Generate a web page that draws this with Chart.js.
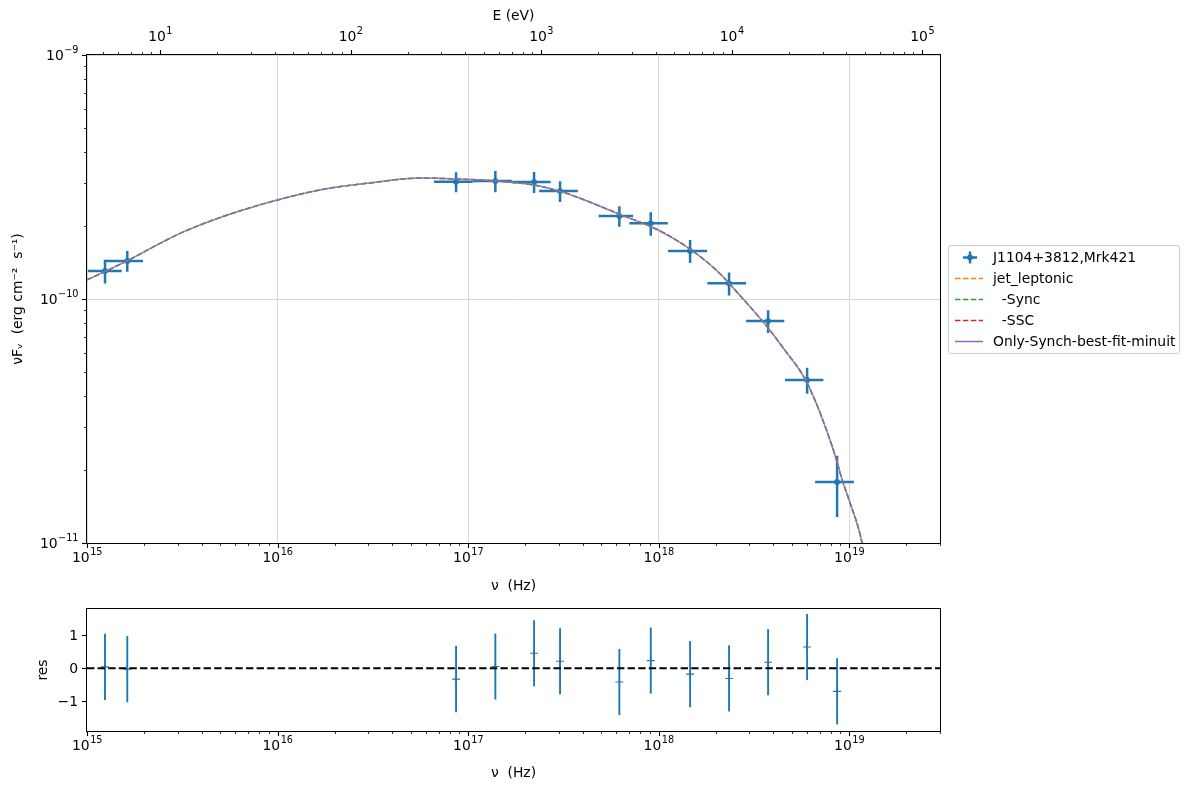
<!DOCTYPE html>
<html>
<head>
<meta charset="utf-8">
<script src="https://cdn.jsdelivr.net/npm/chart.js@4.4.0/dist/chart.umd.min.js"></script>
<style>
  body { margin: 0; background: #fff; font-family: "DejaVu Sans", sans-serif; }
  #wrap { position: relative; width: 1189px; height: 790px; }
  #main { position: absolute; left: 0; top: 0; }
  #res { position: absolute; left: 0; top: 600px; }
  #legend { position: absolute; left: 948px; top: 245px; width: 232px; height: 109px;
            border: 1px solid #cccccc; border-radius: 3px; box-sizing: border-box; }
  .row { position: absolute; left: 0; height: 20px; width: 230px; }
  .row svg { position: absolute; left: 5px; top: 0; }
  .row span { position: absolute; left: 44px; top: 0; line-height: 20px; font-size: 13.9px;
              color: #000; white-space: pre; }
</style>
</head>
<body>
<div id="wrap">
  <canvas id="main" width="1189" height="600"></canvas>
  <canvas id="res" width="1189" height="190"></canvas>
  <div id="legend"></div>
</div>
<script>
// observed SED points
const nu = [1.243e15, 1.627e15, 8.65e16, 1.391e17, 2.221e17, 3.04e17, 6.225e17, 9.1e17, 1.464e18, 2.344e18, 3.757e18, 6.02e18, 8.65e18];
const nuLo = [1.01e15, 1.243e15, 6.63e16, 1.062e17, 1.696e17, 2.36e17, 4.84e17, 7.03e17, 1.122e18, 1.803e18, 2.88e18, 4.61e18, 6.63e18];
const nuHi = [1.52e15, 1.968e15, 1.059e17, 1.696e17, 2.717e17, 3.77e17, 7.35e17, 1.118e18, 1.798e18, 2.88e18, 4.57e18, 7.33e18, 1.059e19];
const nuFnu = [1.303e-10, 1.432e-10, 3.024e-10, 3.044e-10, 3.016e-10, 2.77e-10, 2.188e-10, 2.042e-10, 1.573e-10, 1.159e-10, 8.12e-11, 4.66e-11, 1.778e-11];
const nuFnuErr = [1.45e-11, 1.4e-11, 2.85e-11, 3.05e-11, 3.0e-11, 2.7e-11, 2.1e-11, 2.25e-11, 1.7e-11, 1.25e-11, 8.7e-12, 5.7e-12, 5.0e-12];

// model curve (jet_leptonic / Sync / best fit overlap in this range)
const modelNu = [1.0e15, 1.62e15, 2.415e15, 3.16e15, 5.0e15, 1.0e16, 1.78e16, 3.06e16, 5.6e16, 8.65e16, 1.39e17, 2.22e17, 3.04e17, 3.87e17, 6.21e17, 1.0e18, 1.46e18, 2.03e18, 2.78e18, 3.76e18, 4.51e18, 6.03e18, 8.28e18, 9.27e18, 1.0e19, 1.17e19, 1.35e19];
const modelFlux = [1.197e-10, 1.432e-10, 1.69e-10, 1.875e-10, 2.158e-10, 2.547e-10, 2.825e-10, 2.99e-10, 3.13e-10, 3.105e-10, 3.048e-10, 2.931e-10, 2.761e-10, 2.588e-10, 2.228e-10, 1.914e-10, 1.603e-10, 1.303e-10, 1.0e-10, 7.6e-11, 6.3e-11, 4.52e-11, 2.4e-11, 1.78e-11, 1.5e-11, 1.0e-11, 5.0e-12];
const sscFlux = [];

// residuals
const residual = [0.04, -0.03, -0.33, 0.05, 0.45, 0.21, -0.42, 0.23, -0.18, -0.31, 0.18, 0.64, -0.70];
const residualErr = [1, 1, 1, 1, 1, 1, 1, 1, 1, 1, 1, 1, 1];
const residualTicks = [-1, 0, 1];

// axis ranges
const NU_MIN = 1e15, NU_MAX = 3e19;
const FLUX_MIN = 1e-11, FLUX_MAX = 1e-9;
const RES_MIN = -1.9, RES_MAX = 1.79;
const H_EV = 4.135667e-15;

const BLUE = '#1f77b4';
const GRID = '#d8d8d8';
const FONT = { family: 'DejaVu Sans', size: 13.9 };
const DASH = [5.5, 2.4];

Chart.defaults.font.family = 'DejaVu Sans';
Chart.defaults.color = '#000';
Chart.defaults.animation = false;

function decades(scale) {
  const out = [];
  for (let e = Math.ceil(Math.log10(scale.min) - 1e-9); Math.pow(10, e) <= scale.max * 1.000001; e++) {
    out.push({ value: Math.pow(10, e) });
  }
  scale.ticks = out;
}
function tickValues(scale) {
  if (scale.type === 'logarithmic') {
    const out = [];
    const e0 = Math.floor(Math.log10(scale.min)), e1 = Math.ceil(Math.log10(scale.max));
    for (let e = e0; e <= e1; e++) {
      for (let m = 1; m <= 9; m++) {
        const v = m * Math.pow(10, e);
        if (v >= scale.min * 0.9999 && v <= scale.max * 1.0001) out.push({ v, major: m === 1 });
      }
    }
    return out;
  }
  return scale.ticks.map(t => ({ v: t.value, major: true }));
}

// "10" with a raised exponent, like matplotlib's log labels
function powText(ctx, v, x, y, align) {
  const exp = String(Math.round(Math.log10(v))).replace('-', '−');
  ctx.font = '13.9px "DejaVu Sans"';
  const wb = ctx.measureText('10').width;
  ctx.font = '9.7px "DejaVu Sans"';
  const we = ctx.measureText(exp).width;
  const x0 = align === 'right' ? x - wb - we : x - (wb + we) / 2;
  ctx.fillStyle = '#000';
  ctx.textAlign = 'left';
  ctx.textBaseline = 'alphabetic';
  ctx.font = '13.9px "DejaVu Sans"';
  ctx.fillText('10', x0, y);
  ctx.font = '9.7px "DejaVu Sans"';
  ctx.fillText(exp, x0 + wb + 0.5, y - 7);
}

// error bars, frame, tick marks and tick labels drawn with the chart scales
const axesFrame = {
  id: 'axesFrame',
  beforeDatasetsDraw(chart) {
    const { ctx, chartArea: a, scales } = chart;
    const xs = scales.x, ys = scales.y;
    ctx.save();
    ctx.beginPath();
    ctx.rect(a.left, a.top, a.right - a.left, a.bottom - a.top);
    ctx.clip();
    chart.data.datasets.forEach(ds => {
      if (!ds.yErr) return;
      ctx.strokeStyle = ds.borderColor;
      ctx.lineWidth = ds.errWidth;
      ds.data.forEach((p, i) => {
        const px = xs.getPixelForValue(p.x), py = ys.getPixelForValue(p.y);
        ctx.beginPath();
        ctx.moveTo(px, ys.getPixelForValue(p.y + ds.yErr[i]));
        ctx.lineTo(px, ys.getPixelForValue(p.y - ds.yErr[i]));
        if (ds.xLo) {
          ctx.moveTo(xs.getPixelForValue(ds.xLo[i]), py);
          ctx.lineTo(xs.getPixelForValue(ds.xHi[i]), py);
        }
        ctx.stroke();
      });
    });
    ctx.restore();
  },
  afterDraw(chart) {
    const { ctx, chartArea: a } = chart;
    ctx.save();
    ctx.strokeStyle = '#000';
    Object.values(chart.scales).forEach(s => {
      tickValues(s).forEach(t => {
        const len = t.major ? 5 : 3;
        ctx.lineWidth = t.major ? 1.1 : 0.8;
        ctx.beginPath();
        if (s.isHorizontal()) {
          const px = Math.round(s.getPixelForValue(t.v)) + 0.5;
          if (s.position === 'top') { ctx.moveTo(px, a.top); ctx.lineTo(px, a.top - len); }
          else { ctx.moveTo(px, a.bottom); ctx.lineTo(px, a.bottom + len); }
        } else {
          const py = Math.round(s.getPixelForValue(t.v)) + 0.5;
          ctx.moveTo(a.left, py); ctx.lineTo(a.left - len, py);
        }
        ctx.stroke();
      });
      s.ticks.forEach(t => {
        const p = s.getPixelForValue(t.value);
        if (s.type === 'logarithmic') {
          if (s.isHorizontal()) {
            if (s.position === 'top') powText(ctx, t.value, p, a.top - 14, 'center');
            else powText(ctx, t.value, p, a.bottom + 19, 'center');
          } else {
            powText(ctx, t.value, a.left - 9, p + 5, 'right');
          }
        } else {
          ctx.font = '13.9px "DejaVu Sans"';
          ctx.fillStyle = '#000';
          ctx.textAlign = 'right';
          ctx.textBaseline = 'alphabetic';
          ctx.fillText(String(t.value).replace('-', '−'), a.left - 9, p + 5);
        }
      });
    });
    ctx.lineWidth = 1;
    ctx.strokeRect(Math.round(a.left) - 0.5, Math.round(a.top) - 0.5,
                   Math.round(a.right - a.left) + 1, Math.round(a.bottom - a.top) + 1);
    ctx.restore();
  }
};

const obs = nu.map((v, i) => ({ x: v, y: nuFnu[i] }));
const model = modelNu.map((v, i) => ({ x: v, y: modelFlux[i] }));
const ssc = sscFlux.map((v, i) => ({ x: modelNu[i], y: v }));

const lineStyle = { showLine: true, pointRadius: 0, borderWidth: 1.5, cubicInterpolationMode: 'monotone' };

new Chart(document.getElementById('main'), {
  type: 'scatter',
  data: {
    datasets: [
      { label: 'J1104+3812,Mrk421', data: obs, xLo: nuLo, xHi: nuHi, yErr: nuFnuErr, errWidth: 2.5,
        pointRadius: 2.9, backgroundColor: BLUE, borderColor: BLUE, borderWidth: 0, order: 5 },
      { ...lineStyle, label: 'Only-Synch-best-fit-minuit', data: model, borderColor: 'rgba(148,103,189,0.85)', order: 1 },
      { ...lineStyle, label: '  -SSC', data: ssc, borderColor: '#d62728', borderDash: DASH, order: 2 },
      { ...lineStyle, label: '  -Sync', data: model, borderColor: '#2ca02c', borderDash: DASH, order: 3 },
      { ...lineStyle, label: 'jet_leptonic', data: model, borderColor: '#ff7f0e', borderDash: DASH, order: 4 }
    ]
  },
  options: {
    responsive: false,
    layout: { padding: { left: 0, right: 249, top: 0, bottom: 0 } },
    plugins: { legend: { display: false }, tooltip: { enabled: false } },
    scales: {
      x: {
        type: 'logarithmic', position: 'bottom', min: NU_MIN, max: NU_MAX,
        afterBuildTicks: decades,
        afterFit: s => { s.height = 57; },
        ticks: { display: false },
        grid: { color: GRID, lineWidth: 1, drawTicks: false },
        border: { display: false },
        title: { display: true, text: 'ν  (Hz)', font: FONT, color: '#000', padding: { top: 0, bottom: 5 } }
      },
      xE: {
        type: 'logarithmic', position: 'top', min: NU_MIN * H_EV, max: NU_MAX * H_EV,
        afterBuildTicks: decades,
        afterFit: s => { s.height = 55; },
        ticks: { display: false },
        grid: { display: false, drawTicks: false },
        border: { display: false },
        title: { display: true, text: 'E (eV)', font: FONT, color: '#000', padding: { top: 8, bottom: 0 } }
      },
      y: {
        type: 'logarithmic', position: 'left', min: FLUX_MIN, max: FLUX_MAX,
        afterBuildTicks: decades,
        afterFit: s => { s.width = 87; },
        ticks: { display: false },
        grid: { color: GRID, lineWidth: 1, drawTicks: false },
        border: { display: false },
        title: { display: true, text: 'νFᵥ  (erg cm⁻²  s⁻¹)', font: FONT, color: '#000', padding: { top: 10, bottom: 0 } }
      }
    }
  },
  plugins: [axesFrame]
});

const resPts = nu.map((v, i) => ({ x: v, y: residual[i] }));
const zeroLine = [{ x: NU_MIN, y: 0 }, { x: NU_MAX, y: 0 }];

new Chart(document.getElementById('res'), {
  type: 'scatter',
  data: {
    datasets: [
      { data: zeroLine, showLine: true, borderColor: '#000', borderDash: [7.4, 3.2], borderWidth: 2,
        pointRadius: 0, order: 0 },
      { data: resPts, yErr: residualErr, errWidth: 1.9, pointStyle: 'cross', pointRadius: 4,
        borderColor: BLUE, borderWidth: 1.1, order: 1 }
    ]
  },
  options: {
    responsive: false,
    layout: { padding: { left: 0, right: 249, top: 9, bottom: 0 } },
    plugins: { legend: { display: false }, tooltip: { enabled: false } },
    scales: {
      x: {
        type: 'logarithmic', position: 'bottom', min: NU_MIN, max: NU_MAX,
        afterBuildTicks: decades,
        afterFit: s => { s.height = 59; },
        ticks: { display: false },
        grid: { display: false, drawTicks: false },
        border: { display: false },
        title: { display: true, text: 'ν  (Hz)', font: FONT, color: '#000', padding: { top: 0, bottom: 8 } }
      },
      y: {
        type: 'linear', position: 'left', min: RES_MIN, max: RES_MAX,
        afterBuildTicks: s => { s.ticks = residualTicks.map(v => ({ value: v })); },
        afterFit: s => { s.width = 87; },
        ticks: { display: false },
        grid: { display: false, drawTicks: false },
        border: { display: false },
        title: { display: true, text: 'res', font: FONT, color: '#000', padding: { top: 35, bottom: 0 } }
      }
    }
  },
  plugins: [axesFrame]
});

// legend
const legendItems = [
  { text: 'J1104+3812,Mrk421', kind: 'err', color: BLUE },
  { text: 'jet_leptonic', kind: 'dash', color: '#ff7f0e' },
  { text: '  -Sync', kind: 'dash', color: '#2ca02c' },
  { text: '  -SSC', kind: 'dash', color: '#d62728' },
  { text: 'Only-Synch-best-fit-minuit', kind: 'solid', color: '#9467bd' }
];
const legend = document.getElementById('legend');
legendItems.forEach((it, i) => {
  const row = document.createElement('div');
  row.className = 'row';
  row.style.top = (1 + i * 20.9) + 'px';
  let svg;
  if (it.kind === 'err') {
    svg = `<svg width="32" height="20"><line x1="9" y1="10.5" x2="23" y2="10.5" stroke="${it.color}" stroke-width="2.5"/>` +
          `<line x1="16" y1="4.5" x2="16" y2="16.5" stroke="${it.color}" stroke-width="2.5"/>` +
          `<circle cx="16" cy="10.5" r="2.9" fill="${it.color}"/></svg>`;
  } else {
    const dash = it.kind === 'dash' ? ' stroke-dasharray="5.5 2.4"' : '';
    svg = `<svg width="32" height="20"><line x1="1" y1="10.5" x2="29" y2="10.5" stroke="${it.color}" stroke-width="1.5"${dash}/></svg>`;
  }
  row.innerHTML = svg + '<span></span>';
  row.querySelector('span').textContent = it.text;
  legend.appendChild(row);
});
</script>
</body>
</html>
